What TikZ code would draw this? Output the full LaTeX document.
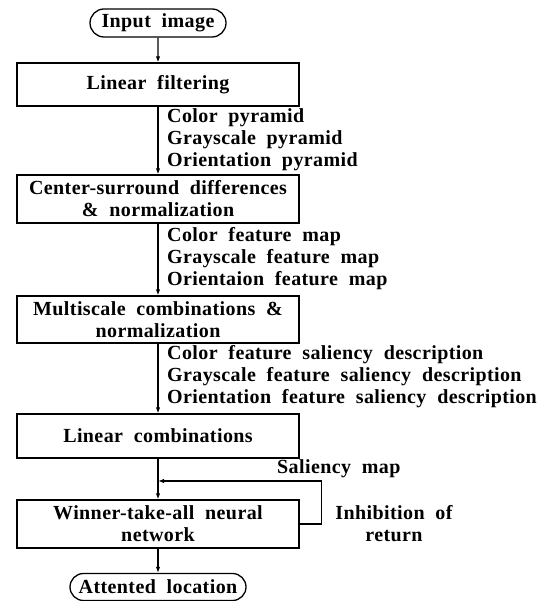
\documentclass[tikz,border=0pt]{standalone}
\usepackage{fontspec}
\setmainfont{Liberation Serif}[WordSpace=2,LetterSpace=2]
\usetikzlibrary{arrows.meta,shapes.misc}
\begin{document}
\begin{tikzpicture}[x=1pt,y=-1pt,
  every node/.style={font=\fontsize{20}{22}\selectfont\bfseries},
  box/.style={draw,line width=1.3pt,minimum width=282pt,inner sep=0pt,align=center},
  oval/.style={draw,line width=1.3pt,rounded rectangle,inner sep=0pt},
  lbl/.style={anchor=west,align=left,inner sep=0pt},
  arr/.style={line width=1.2pt,-{Latex[length=6pt,width=4.5pt]}}
]
\useasboundingbox (0,0) rectangle (541,601);
\node[oval,minimum width=136pt,minimum height=28pt] (in) at (158,23) {Input image};
\node[box,minimum height=43pt] (lf) at (158,84.5) {Linear filtering};
\node[box,minimum height=48pt] (cs) at (158,199) {Center-surround differences\\\& normalization};
\node[box,minimum height=47pt] (ms) at (158,319.5) {Multiscale combinations \&\\normalization};
\node[box,minimum height=44pt] (lc) at (158,436) {Linear combinations};
\node[box,minimum height=48pt] (wta) at (158,524) {Winner-take-all neural\\network};
\node[oval,minimum width=176pt,minimum height=27pt] (out) at (158,587) {Attented location};

\node[lbl] (l1) at (167,140) {Color pyramid\\Grayscale pyramid\\Orientation pyramid};
\node[lbl] (l2) at (167,259) {Color feature map\\Grayscale feature map\\Orientaion feature map};
\node[lbl] (l3) at (167,377) {Color feature saliency description\\Grayscale feature saliency description\\Orientation feature saliency description};
\node[lbl] (l4) at (277,469) {Saliency map};
\node[align=center,inner sep=0pt] (l5) at (394,524) {Inhibition of\\return};

\coordinate (fb) at (158,481);
\draw[arr] (in) -- (lf);
\draw[arr] (lf) -- (cs);
\draw[arr] (cs) -- (ms);
\draw[arr] (ms) -- (lc);
\draw[arr] (lc) -- (wta);
\draw[arr] (wta) -- (out);
\draw[arr] (wta.east) -- ++(22,0) |- (fb);
\end{tikzpicture}
\end{document}
